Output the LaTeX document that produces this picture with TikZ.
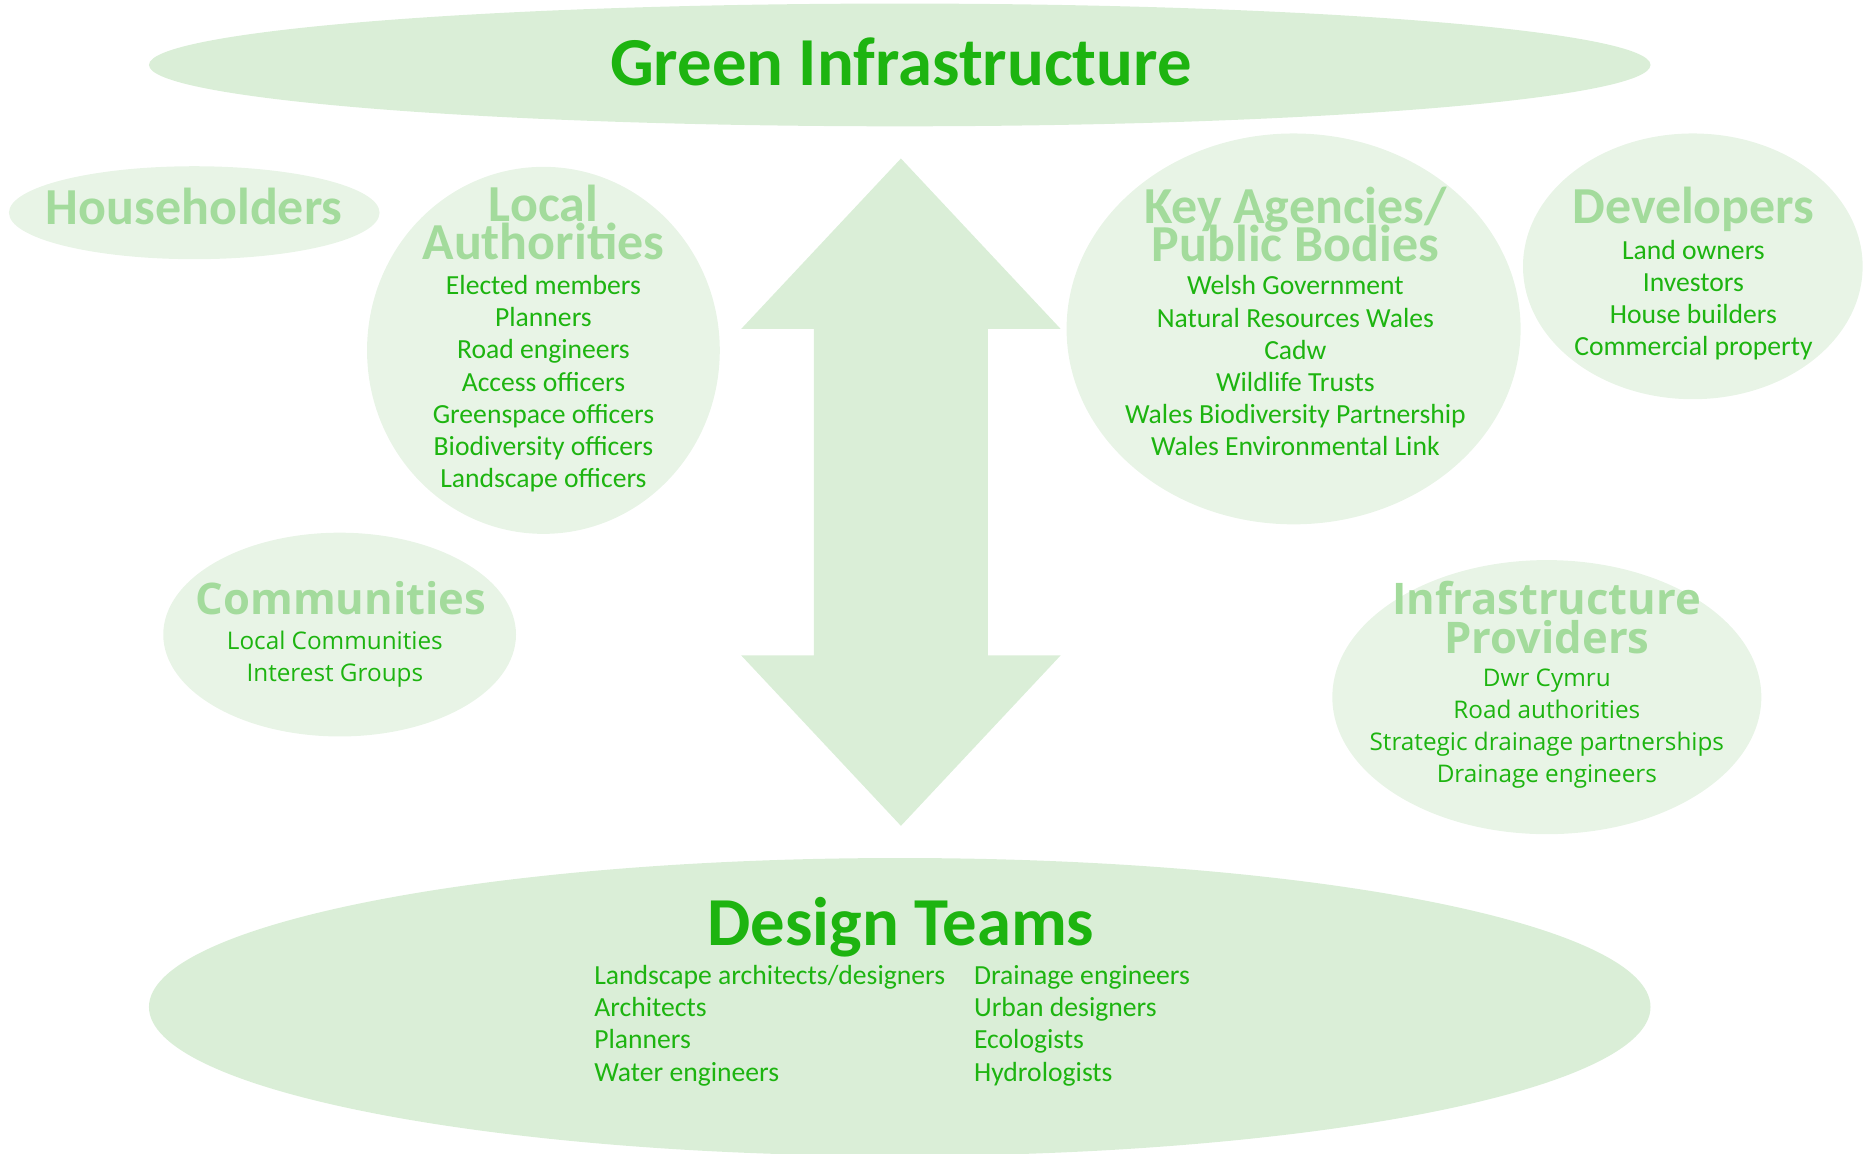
\documentclass[tikz,border=0pt]{standalone}
\usepackage{fontspec}
\setmainfont{Carlito}
\newfontfamily\opensans{Open Sans}
\usetikzlibrary{shapes.geometric,positioning,matrix}
\definecolor{gigreen}{RGB}{29,180,16}
\definecolor{gilight}{RGB}{163,219,156}
\definecolor{gifill}{RGB}{218,238,215}
\definecolor{gipale}{RGB}{232,244,230}
\newcommand\headtight{\lineskiplimit=-20pt\relax}
\tikzset{
	blob/.style={ellipse,fill=gipale,draw=none,inner sep=0pt},
	bigblob/.style={blob,fill=gifill},
	gititle/.style={font=\fontsize{16.4}{18}\selectfont\bfseries,text=gigreen,inner sep=0pt},
	grouphead/.style={font=\fontsize{12.4}{9.1}\selectfont\bfseries\headtight,text=gilight,align=center,inner sep=0pt},
	grouplist/.style={font=\fontsize{6.6}{7.68}\selectfont,text=gigreen,align=center,inner sep=0pt},
	ohead/.style={grouphead,font=\opensans\fontsize{10.4}{9.4}\selectfont\bfseries\headtight},
	olist/.style={grouplist,font=\opensans\fontsize{5.8}{7.6}\selectfont}
}

\begin{document}
\begin{tikzpicture}
		\useasboundingbox (0,0) rectangle (15.65,-9.68);
		% top and bottom
		\node[bigblob,minimum width=12.6cm,minimum height=1.03cm] (green) at (7.55,-0.545) {};
		\node[gititle] (greentitle) at (7.56,-0.52) {Green Infrastructure};
		\node[bigblob,minimum width=12.6cm,minimum height=2.5cm] (design) at (7.55,-8.45) {};
		\node[gititle] (designtitle) at (7.56,-7.78) {Design Teams};
		% double arrow
		\fill[gifill] (7.56,-1.33) -- (8.90,-2.76) -- (8.29,-2.76) -- (8.29,-5.50) -- (8.90,-5.50)
			-- (7.56,-6.93) -- (6.22,-5.50) -- (6.83,-5.50) -- (6.83,-2.76) -- (6.22,-2.76) -- cycle;
		% groups
		\node[blob,minimum width=3.11cm,minimum height=0.78cm] (house) at (1.63,-1.785) {};
		\node[grouphead] (househead) at (1.63,-1.735) {Householders};
		\node[blob,minimum width=2.96cm,minimum height=3.08cm] (local) at (4.56,-2.94) {};
		\node[grouphead] (localhead) at (4.56,-1.87) {Local\\Authorities};
		\node[grouplist] (locallist) at (4.56,-3.22) {Elected members\\Planners\\Road engineers\\Access officers\\Greenspace officers\\Biodiversity officers\\Landscape officers};
		\node[blob,minimum width=3.81cm,minimum height=3.28cm] (agency) at (10.855,-2.76) {};
		\node[grouphead] (agencyhead) at (10.87,-1.88) {Key Agencies/\\Public Bodies};
		\node[grouplist] (agencylist) at (10.87,-3.07) {Welsh Government\\Natural Resources Wales\\Cadw\\Wildlife Trusts\\Wales Biodiversity Partnership\\Wales Environmental Link};
		\node[blob,minimum width=2.85cm,minimum height=2.23cm] (devel) at (14.205,-2.235) {};
		\node[grouphead] (develhead) at (14.21,-1.76) {Developers};
		\node[grouplist] (devellist) at (14.21,-2.52) {Land owners\\Investors\\House builders\\Commercial property};
		\node[blob,minimum width=2.96cm,minimum height=1.71cm] (commun) at (2.85,-5.325) {};
		\node[ohead] (communhead) at (2.86,-5.02) {Communities};
		\node[olist] (communlist) at (2.81,-5.535) {Local Communities\\Interest Groups};
		\node[blob,minimum width=3.6cm,minimum height=2.3cm] (infra) at (12.98,-5.85) {};
		\node[ohead] (infrahead) at (12.98,-5.18) {Infrastructure\\Providers};
		\node[olist] (infralist) at (12.98,-6.115) {Dwr Cymru\\Road authorities\\Strategic drainage partnerships\\Drainage engineers};
		% design team members
		\matrix[matrix of nodes,
		ampersand replacement=\&,
		inner sep=0pt,
		column sep=0.19cm,
		anchor=north west,
		nodes={grouplist,anchor=west,text height=0.19cm,text depth=0.08cm}
		] (designlist) at (4.98,-8.065) {
			Landscape architects/designers \& Drainage engineers \\
			Architects \& Urban designers \\
			Planners \& Ecologists \\
			Water engineers \& Hydrologists \\
		};
\end{tikzpicture}
\end{document}
